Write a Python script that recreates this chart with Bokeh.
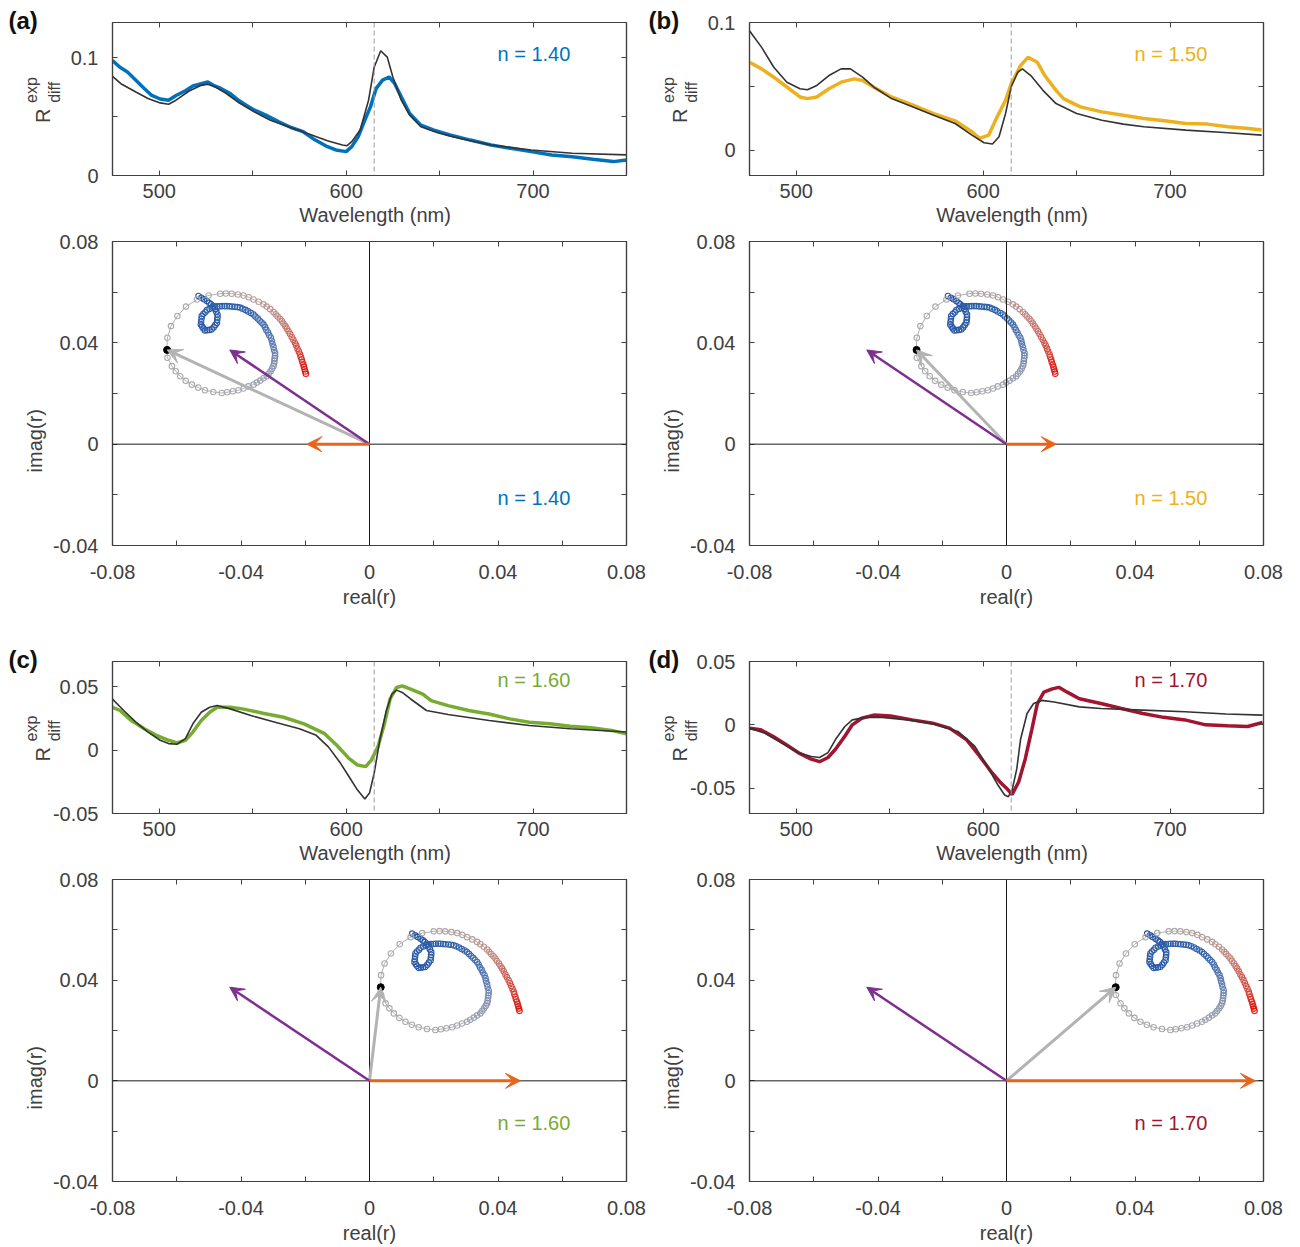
import numpy as np
from bokeh.plotting import figure
from bokeh.models import (Range1d, FixedTicker, LinearAxis, Label, Span, Arrow, VeeHead,
                          CustomJSTickFormatter, ColumnDataSource)
from bokeh.layouts import column, row
from bokeh.embed import file_html
from bokeh.resources import INLINE

# ---------------- data ----------------
panel_tags = ["(a)", "(b)", "(c)", "(d)"]
n_labels = ["n = 1.40", "n = 1.50", "n = 1.60", "n = 1.70"]
series_colors = ["#0072BD", "#EDB120", "#77AC30", "#A2142F"]
resonance_nm = 615.0

wl_exp_a = [475, 479, 483, 487.5, 492, 496, 500.5, 505, 509, 514, 518, 522.5, 526, 529, 533, 538, 542, 546.5,
            551, 557, 564, 570.5, 577, 583.5, 590, 594.5, 600, 603, 606.5, 610, 613, 616, 619.5, 623, 626,
            629.5, 634, 640, 647, 655.5, 666.5, 677.5, 688, 699, 710, 721, 732, 743, 750]
R_exp_a = [.0977, .092, .088, .081, .074, .068, .065, .064, .068, .072, .076, .078, .0794, .0766, .074, .0696,
           .0645, .0597, .0555, .0513, .0456, .0408, .0372, .0301, .0245, .0217, .0203, .0245, .033, .047, .0583,
           .0738, .081, .0837, .078, .0668, .0527, .0428, .0386, .0344, .0301, .0259, .0231, .0203, .0175, .016,
           .0138, .0118, .0132]
wl_fit_a = [475, 479.5, 487.5, 494, 500.5, 505, 509, 516, 522.5, 526, 530, 535.5, 542, 551, 559.5, 568, 579, 590,
            598, 600.5, 603, 607.5, 612, 615, 618.5, 622, 625, 629.5, 634, 640, 649, 655.5, 666.5, 677.5, 699, 721, 750]
R_fit_a = [.0842, .078, .071, .0654, .0617, .0606, .064, .0718, .0766, .0775, .0752, .0701, .0625, .054, .047, .042,
           .0358, .0296, .0259, .0253, .0287, .0386, .064, .092, .106, .1006, .0837, .064, .0513, .0414, .0363,
           .0335, .0296, .0259, .0217, .0189, .0175]

wl_exp_b = [475, 481.5, 488, 495, 502, 506, 511, 517.5, 524, 531, 535.5, 542, 551, 562.5, 573.5, 585, 594, 598,
            603, 607.5, 612, 615, 620, 624, 629, 633, 639, 643, 652, 663.5, 675, 686, 697, 708.5, 720, 731, 742, 749]
R_exp_b = [.0688, .0636, .0571, .0494, .0416, .0403, .0416, .048, .0532, .0558, .0545, .0488, .0416, .0351, .0286,
           .0229, .0143, .0091, .0117, .026, .039, .052, .0662, .0727, .0688, .0584, .0468, .0403, .0338, .0299,
           .0273, .0247, .0229, .0208, .0203, .0182, .0169, .0156]
wl_fit_b = [475, 481.5, 488, 495, 502, 506, 511, 517.5, 524, 529, 535.5, 542, 551, 562.5, 573.5, 585, 594, 600.5,
            605, 608.5, 612, 615, 618.5, 621, 625.5, 632, 639, 650, 663.5, 675, 686, 708.5, 731, 749]
R_fit_b = [.0935, .0805, .0649, .0532, .048, .0473, .0506, .0584, .0636, .0636, .0571, .0488, .0403, .0338, .0273,
           .0208, .0117, .0057, .0047, .0104, .0286, .0494, .061, .0636, .0584, .0468, .0364, .0286, .0234, .0203,
           .0182, .0156, .0135, .0117]

wl_exp_c = [475, 479, 485, 492, 498.5, 505, 509.5, 514, 518, 522.5, 527, 531, 538, 544.5, 555.5, 566.5, 577.5,
            588.5, 595, 601.5, 606, 610.5, 613.5, 617, 620.5, 623.5, 627, 630, 634.5, 641, 645.5, 654.5, 665.5,
            676.5, 687.5, 698, 709, 720, 731, 742, 750]
R_exp_c = [.0339, .0313, .0234, .0169, .0117, .0078, .0057, .0078, .0143, .0234, .0299, .0339, .0339, .0326, .0292,
           .026, .0208, .013, .0039, -.0065, -.0117, -.013, -.0078, .0026, .0208, .0404, .0495, .0508, .0482, .0443,
           .0391, .0352, .0313, .0286, .0247, .0221, .0208, .0188, .0177, .0156, .013]
wl_fit_c = [475, 481, 487.5, 494, 500.5, 505, 509.5, 514, 518, 522.5, 527, 531, 538, 549, 562, 575, 584, 590.5, 597,
            601.5, 606, 610, 612.5, 615, 618, 621.5, 624.5, 627, 630, 634.5, 643, 654.5, 676.5, 698, 720, 750]
R_fit_c = [.0404, .0313, .0221, .0143, .0078, .0052, .0047, .0091, .0208, .0299, .0339, .0352, .0326, .0273, .0221,
           .0169, .0117, .0026, -.0104, -.0208, -.0313, -.0385, -.0339, -.0182, .0078, .0313, .0443, .0474, .0456,
           .0404, .0313, .0281, .0234, .0195, .0169, .0143]

wl_exp_d = [475, 481, 487.5, 494.5, 501, 508, 512.5, 517, 521, 526, 530, 535, 541.5, 550.5, 562, 573, 582, 591, 598,
            604.5, 609, 612.5, 615.5, 619, 622.5, 626, 629, 632.5, 637, 640.5, 645, 651.5, 663, 674, 685.5, 696.5,
            708, 719, 730.5, 741.5, 749.5]
R_exp_d = [-.0026, -.0039, -.009, -.0155, -.0219, -.0271, -.0291, -.0258, -.0193, -.009, 0, .0052, .0077, .007,
           .0039, .0013, -.0026, -.0116, -.0245, -.0374, -.0451, -.050, -.055, -.0451, -.0271, -.0039, .0168, .0258,
           .0284, .0296, .0258, .0206, .0168, .0129, .009, .0059, .0039, 0, -.0008, -.0013, .0018]
wl_fit_d = [475, 483, 492, 501, 508, 512.5, 517, 521, 526, 530, 537, 546, 559.5, 573, 586.5, 595.5, 602, 608, 611.5,
            613.5, 615.5, 618, 620, 623.5, 627, 631.5, 638, 651.5, 663, 685.5, 708, 730, 749.5]
R_fit_d = [-.0026, -.0064, -.0142, -.0219, -.025, -.0258, -.0219, -.0116, -.0013, .0039, .0059, .0059, .0039, .0008,
           -.0052, -.0168, -.0322, -.0477, -.0554, -.0567, -.0515, -.0348, -.0116, .009, .0168, .0193, .018, .0142,
           .0129, .0116, .0103, .0085, .0077]

wl_exp = [wl_exp_a, wl_exp_b, wl_exp_c, wl_exp_d]
R_exp = [R_exp_a, R_exp_b, R_exp_c, R_exp_d]
wl_fit = [wl_fit_a, wl_fit_b, wl_fit_c, wl_fit_d]
R_fit = [R_fit_a, R_fit_b, R_fit_c, R_fit_d]

spec_y_ranges = [(0.0, 0.13), (-0.02, 0.10), (-0.05, 0.07), (-0.07, 0.05)]
spec_y_major = [[0, 0.1], [0, 0.1], [-0.05, 0, 0.05], [-0.05, 0, 0.05]]
spec_y_minor = [[0.05], [0.05], [], []]
spec_x_major = [500, 600, 700]
spec_x_minor = [550, 650]

cplx_x_major = [-0.08, -0.04, 0, 0.04, 0.08]
cplx_x_minor = [-0.06, -0.02, 0.02, 0.06]
cplx_y_major = [-0.04, 0, 0.04, 0.08]
cplx_y_minor = [-0.02, 0.02, 0.06]

# background reflection (orange, real) for each n, and resonant part at 615 nm (purple)
r_bg = [-0.0195, 0.0155, 0.0470, 0.0775]
r_res_peak = (-0.0435, 0.0372)

# resonant trajectory r_res(lambda), 475 nm -> 750 nm
traj_re = [
    -0.0337, -0.0328, -0.0320, -0.0311, -0.0304, -0.0298, -0.0291, -0.0286, -0.0282, -0.0278, -0.0278, -0.0279,
    -0.0280, -0.0285, -0.0290, -0.0296, -0.0303, -0.0310, -0.0317, -0.0322, -0.0326, -0.0330, -0.0329, -0.0328,
    -0.0327, -0.0322, -0.0316, -0.0311, -0.0303, -0.0294,
    -0.0286, -0.0279, -0.0271, -0.0264, -0.0256,
    -0.0249, -0.0241, -0.0233, -0.0224, -0.0216,
    -0.0208, -0.0200, -0.0191, -0.0183, -0.0174,
    -0.0166, -0.0160, -0.0153, -0.0147, -0.0141,
    -0.0135, -0.0130, -0.0126, -0.0121, -0.0117,
    -0.0112, -0.0109, -0.0107, -0.0104, -0.0102,
    -0.0099, -0.0099, -0.0100, -0.0101, -0.0102,
    -0.0104, -0.0108, -0.0113, -0.0119,
    -0.0125, -0.0135, -0.0145, -0.0156,
    -0.0166, -0.0182, -0.0197,
    -0.0213, -0.0230, -0.0248,
    -0.0265, -0.0291,
    -0.0317, -0.0338,
    -0.0358, -0.0377,
    -0.0394, -0.0408,
    -0.0420, -0.0434, -0.0436, -0.0434, -0.0423, -0.0403, -0.0376, -0.0342, -0.0306,
    -0.0270, -0.0252,
    -0.0234, -0.0215,
    -0.0197, -0.0181,
    -0.0166, -0.0150,
    -0.0135, -0.0125, -0.0114,
    -0.0104, -0.0097, -0.0091, -0.0084,
    -0.0078, -0.0073, -0.0067, -0.0062,
    -0.0057, -0.0052, -0.0047, -0.0042,
    -0.0037, -0.0033, -0.0029, -0.0025,
    -0.0021, -0.0019, -0.0016, -0.0014,
    -0.0011, -0.0009, -0.0007, -0.0005,
    -0.0003]
traj_im = [
    0.0585, 0.0578, 0.0572, 0.0565, 0.0558, 0.0552, 0.0545, 0.0534, 0.0523, 0.0512, 0.0501, 0.0490,
    0.0479, 0.0470, 0.0461, 0.0453, 0.0451, 0.0450, 0.0449, 0.0457, 0.0464, 0.0472, 0.0483, 0.0495,
    0.0506, 0.0514, 0.0521, 0.0529, 0.0534, 0.0538,
    0.0543, 0.0544, 0.0544, 0.0545, 0.0545,
    0.0545, 0.0544, 0.0543, 0.0542, 0.0541,
    0.0539, 0.0535, 0.0530, 0.0524, 0.0518,
    0.0512, 0.0504, 0.0496, 0.0488, 0.0480,
    0.0472, 0.0462, 0.0451, 0.0441, 0.0430,
    0.0420, 0.0408, 0.0396, 0.0384, 0.0372,
    0.0360, 0.0349, 0.0339, 0.0329, 0.0318,
    0.0308, 0.0298, 0.0288, 0.0278,
    0.0268, 0.0260, 0.0251, 0.0243,
    0.0235, 0.0228, 0.0220,
    0.0213, 0.0209, 0.0205,
    0.0202, 0.0206,
    0.0213, 0.0223,
    0.0235, 0.0250,
    0.0268, 0.0288,
    0.0308, 0.0341, 0.0373, 0.0420, 0.0466, 0.0506, 0.0543, 0.0571, 0.0587,
    0.0594, 0.0595,
    0.0594, 0.0591,
    0.0587, 0.0580,
    0.0571, 0.0562,
    0.0552, 0.0543, 0.0533,
    0.0522, 0.0513, 0.0504, 0.0495,
    0.0486, 0.0476, 0.0466, 0.0456,
    0.0446, 0.0435, 0.0423, 0.0412,
    0.0400, 0.0389, 0.0377, 0.0366,
    0.0354, 0.0344, 0.0334, 0.0324,
    0.0314, 0.0305, 0.0296, 0.0287,
    0.0278]

# ---------------- style ----------------
FONT = "Liberation Sans"
AX = "#404040"
FIT = "#333333"
ORANGE = "#E8641B"
PURPLE = "#7E2F8E"
GRAY_ARROW = "#B3B3B3"
NB = "\u00a0"

npts = min(len(traj_re), len(traj_im))
stops_i = [0, 45, 58, 66, 76, 96, 104, 112, 120, npts - 1]
stops_c = [(38, 86, 166), (48, 98, 172), (95, 125, 180), (140, 152, 178), (168, 170, 176),
           (172, 168, 168), (185, 155, 152), (198, 128, 122), (212, 80, 70), (228, 22, 14)]
idx = np.arange(npts)
chan = [np.interp(idx, stops_i, [c[k] for c in stops_c]) for k in range(3)]
traj_colors = ["#%02x%02x%02x" % (int(chan[0][i]), int(chan[1][i]), int(chan[2][i])) for i in range(npts)]

fmt_code = "return Math.abs(tick) < 1e-9 ? '0' : String(parseFloat(tick.toFixed(4)));"


def style_label(ax, size="20px", bold=False, color=AX):
    ax.axis_label_text_font = FONT
    ax.axis_label_text_font_size = size
    ax.axis_label_text_font_style = "bold" if bold else "normal"
    ax.axis_label_text_color = color


def make_fig(width, height, lb, rb, tb, bb, xr, yr, xmaj, xmin, ymaj, ymin, xstand, ystand):
    p = figure(width=width, height=height, x_range=Range1d(*xr), y_range=Range1d(*yr),
               output_backend="svg", toolbar_location=None,
               min_border_left=lb, min_border_right=rb, min_border_top=tb, min_border_bottom=bb)
    p.grid.visible = False
    p.outline_line_color = AX
    p.outline_line_width = 1.2
    p.background_fill_color = "white"
    p.border_fill_color = "white"
    xt = FixedTicker(ticks=xmaj, minor_ticks=xmin)
    yt = FixedTicker(ticks=ymaj, minor_ticks=ymin)
    bx = p.below[0]
    ly = p.left[0]
    bx.ticker = xt
    ly.ticker = yt
    bx.formatter = CustomJSTickFormatter(code=fmt_code)
    ly.formatter = CustomJSTickFormatter(code=fmt_code)
    bx.major_label_standoff = xstand
    ly.major_label_standoff = ystand
    for ax in (bx, ly):
        ax.major_tick_in = 5
        ax.major_tick_out = 0
        ax.minor_tick_in = 5
        ax.minor_tick_out = 0
        ax.axis_line_color = AX
        ax.axis_line_width = 1.2
        ax.major_tick_line_color = AX
        ax.minor_tick_line_color = AX
        ax.major_label_text_font = FONT
        ax.major_label_text_font_size = "20px"
        ax.major_label_text_color = AX
        style_label(ax)
    for tk, side in ((xt, "above"), (yt, "right")):
        extra = LinearAxis(ticker=tk, major_tick_in=5, major_tick_out=0, minor_tick_in=5, minor_tick_out=0,
                           axis_line_color=AX, axis_line_width=1.2, major_tick_line_color=AX,
                           minor_tick_line_color=AX, major_label_text_font_size="1px",
                           major_label_text_color=None, major_label_standoff=0)
        style_label(extra)
        p.add_layout(extra, side)
    return p, bx, ly


def lab(p, text, x, y, color):
    p.add_layout(Label(x=x, y=y, x_units="screen", y_units="screen", text=text, text_font=FONT,
                       text_font_size="20px", text_color=color, text_align="left", text_baseline="middle"))


col_w = [647, 645]
col_lb = [112, 102]
col_rb = [21, 29]
tag_offset = [-104, -101]
spec_rows = [(228, 22, 53), (226, 21, 53)]
cplx_rows = [(412, 13, 95), (380, 13, 63)]

spec_figs = []
cplx_figs = []
for k in range(4):
    c = k % 2
    r = k // 2
    h, tb, bb = spec_rows[r]
    p, bx, ly = make_fig(col_w[c], h, col_lb[c], col_rb[c], tb, bb, (475, 750), spec_y_ranges[k],
                         spec_x_major, spec_x_minor, spec_y_major[k], spec_y_minor[k], 8, 14)
    bx.axis_label = NB + NB + "Wavelength (nm)"
    bx.axis_label_standoff = 3
    # y label R^exp_diff : "R" on the tick axis, "exp"/"diff" on an outer label-only axis
    ly.axis_label = "R" + NB * 6
    ly.axis_label_standoff = 14 if r == 0 else -4
    sub = LinearAxis(ticker=FixedTicker(ticks=[]), axis_line_color=None, major_tick_line_color=None,
                     minor_tick_line_color=None, major_label_text_color=None, major_label_text_font_size="1px",
                     major_label_standoff=0, axis_label=NB * 4 + "exp\n" + NB * 3 + "diff",
                     axis_label_standoff=-34)
    style_label(sub, size="16px")
    sub.axis_label_text_line_height = 1.3
    p.add_layout(sub, "left")
    # panel tag as the plot title, pushed to the top-left corner
    p.title.text = panel_tags[k]
    p.title.align = "left"
    p.title.offset = tag_offset[c]
    p.title.vertical_align = "middle"
    p.title.standoff = -25
    p.title.text_font = FONT
    p.title.text_font_size = "24px"
    p.title.text_font_style = "bold"
    p.title.text_color = "#111111"
    p.add_layout(Span(location=resonance_nm, dimension="height", line_color="#9a9a9a",
                      line_dash="5 3", line_width=1))
    p.line(wl_exp[k], R_exp[k], line_color=series_colors[k], line_width=3.5)
    p.line(wl_fit[k], R_fit[k], line_color=FIT, line_width=1.6)
    lab(p, n_labels[k], 385, 122 if r == 0 else 134, series_colors[k])
    spec_figs.append(p)

    h, tb, bb = cplx_rows[r]
    q, qbx, qly = make_fig(col_w[c], h, col_lb[c], col_rb[c], tb, bb, (-0.08, 0.08), (-0.04, 0.08),
                           cplx_x_major, cplx_x_minor, cplx_y_major, cplx_y_minor, 19, 14)
    qbx.axis_label = "real(r)"
    qbx.axis_label_standoff = 4
    qly.axis_label = "imag(r)" + NB * 17
    qly.axis_label_standoff = 4
    q.add_layout(Span(location=0, dimension="height", line_color="#1a1a1a", line_width=1))
    q.add_layout(Span(location=0, dimension="width", line_color="#1a1a1a", line_width=1))
    src = ColumnDataSource(dict(x=[r_bg[k] + v for v in traj_re[:npts]], y=traj_im[:npts], c=traj_colors))
    q.line("x", "y", source=src, line_color="#b0b0b0", line_width=1)
    q.scatter("x", "y", source=src, marker="circle", size=5.5, fill_alpha=0, line_color="c", line_width=1.1)
    dot_x = r_bg[k] + r_res_peak[0]
    dot_y = r_res_peak[1]
    q.scatter([dot_x], [dot_y], marker="circle", size=7, fill_color="black", line_color="black")
    q.add_layout(Arrow(end=VeeHead(size=15, fill_color=GRAY_ARROW, line_color=GRAY_ARROW),
                       x_start=0, y_start=0, x_end=dot_x, y_end=dot_y,
                       line_color=GRAY_ARROW, line_width=3))
    q.add_layout(Arrow(end=VeeHead(size=14, fill_color=PURPLE, line_color=PURPLE),
                       x_start=0, y_start=0, x_end=r_res_peak[0], y_end=r_res_peak[1],
                       line_color=PURPLE, line_width=2.5))
    q.add_layout(Arrow(end=VeeHead(size=15, fill_color=ORANGE, line_color=ORANGE),
                       x_start=0, y_start=0, x_end=r_bg[k], y_end=0,
                       line_color=ORANGE, line_width=3))
    lab(q, n_labels[k], 385, 48 if r == 0 else 59, series_colors[k])
    cplx_figs.append(q)

layout = column(
    row(spec_figs[0], spec_figs[1]),
    row(cplx_figs[0], cplx_figs[1]),
    row(spec_figs[2], spec_figs[3]),
    row(cplx_figs[2], cplx_figs[3]),
)

open("out.html", "w").write(file_html(layout, INLINE))
